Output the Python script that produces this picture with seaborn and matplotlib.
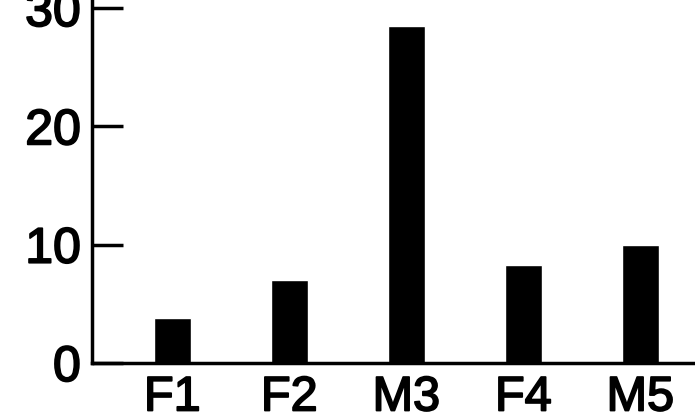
import matplotlib
matplotlib.use("Agg")
import matplotlib.pyplot as plt
import matplotlib.patheffects as pe
import seaborn as sns
import pandas as pd

groups = ["F1", "F2", "M3", "F4", "M5"]
values = [3.8, 7.0, 28.5, 8.3, 10.0]
yticks = [0, 10, 20, 30]

sns.set_style("white")
plt.rcParams["font.family"] = ["Liberation Sans", "DejaVu Sans"]

df = pd.DataFrame({"group": groups, "value": values})

fig = plt.figure(figsize=(6.95, 4.2), dpi=100)
ax = fig.add_axes([92 / 695, 57 / 420, 1 - 92 / 695, 1 - 57 / 420])
sns.barplot(data=df, x="group", y="value", color="black", saturation=1,
            width=0.32, ax=ax)

ax.set_xlim(-0.687, 4.467)
ax.set_ylim(0, 30.68)
ax.set_yticks(yticks)
ax.set_xlabel("")
ax.set_ylabel("")

sns.despine(ax=ax)
for side in ["left", "bottom"]:
    ax.spines[side].set_linewidth(2.5)
    ax.spines[side].set_color("black")

# inward ticks on the value axis, none on the group axis
ax.tick_params(axis="y", left=True, direction="in", length=22, width=2.5,
               labelsize=36, pad=8, colors="black")
ax.tick_params(axis="x", bottom=False, length=0, labelsize=35, pad=9,
               colors="black")

# slightly heavier strokes, like the printed labels
for lab in ax.get_xticklabels() + ax.get_yticklabels():
    lab.set_path_effects([pe.withStroke(linewidth=1.3, foreground="black")])

fig.savefig("out.png", dpi=100)
